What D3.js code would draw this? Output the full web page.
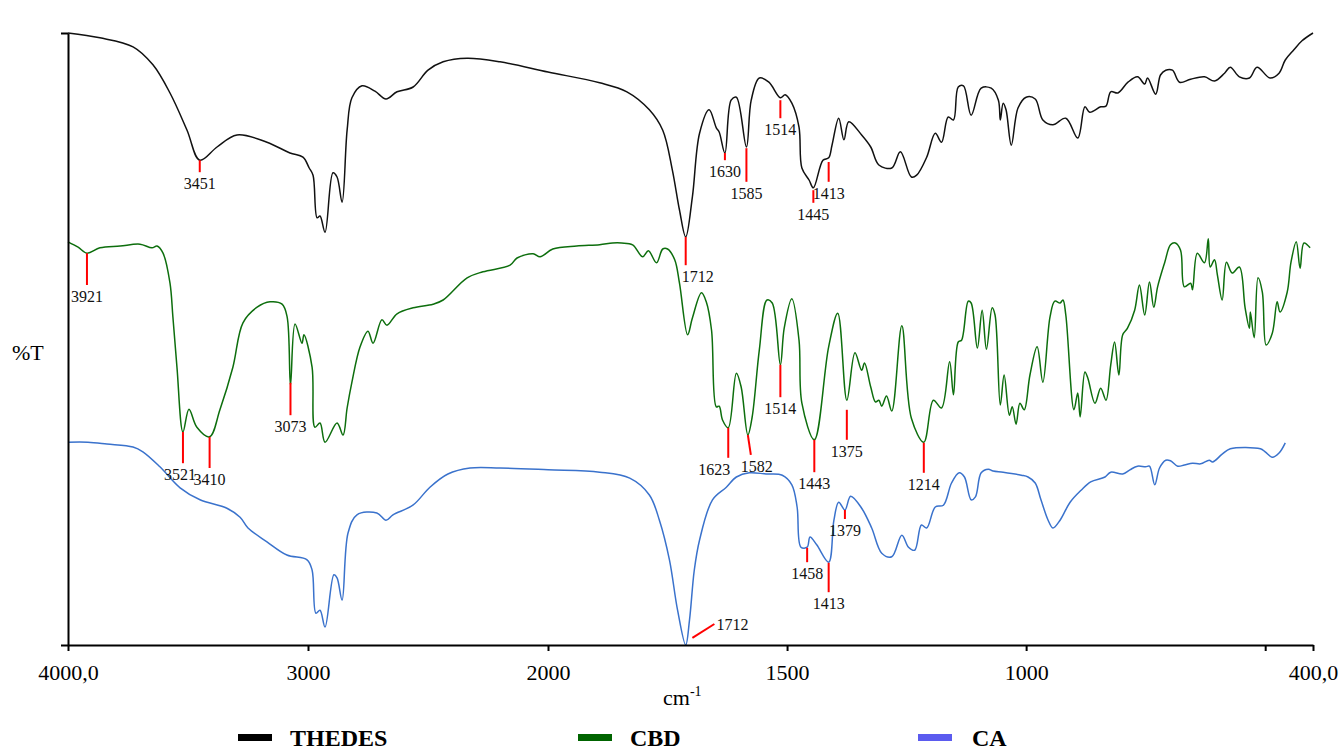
<!DOCTYPE html>
<html>
<head>
<meta charset="utf-8">
<script src="https://cdn.jsdelivr.net/npm/d3@7"></script>
<style>
  body { margin: 0; background: #fff; }
  text { font-family: "Liberation Serif", "Times New Roman", serif; }
</style>
</head>
<body>
<div id="svg"></div>
<script>
// FTIR spectra, [wavenumber cm-1, %T] (curves are stacked, arbitrary offset)
var thedes = [[4000,102],[3867,101.2],[3729,99.7],[3646,96.7],[3575,92],[3504,85.8],[3451,80.8],[3379,83],[3296,85],[3171,83.8],[3075,82],[3021,81.3],[2995,79.5],[2979,78.3],[2962,71.2],[2950,71.5],[2929,68.8],[2896,78.7],[2879,78],[2858,73.8],[2837,85.8],[2817,91.2],[2775,93.2],[2721,92.3],[2675,91],[2629,92.2],[2562,93],[2500,95.8],[2437,97.2],[2337,97.8],[2200,97.2],[2000,95.5],[1892,93.7],[1835,92.2],[1788,89.2],[1760,85.8],[1740,79.2],[1725,72.5],[1712,68],[1698,74.7],[1683,85.3],[1663,89.2],[1648,86.2],[1642,85.5],[1630,82],[1617,90.8],[1606,91.3],[1585,83],[1575,90.8],[1558,94.5],[1538,93.8],[1514,91.2],[1504,91.7],[1490,90.3],[1475,86.3],[1469,79.5],[1454,77.5],[1445,76.2],[1425,80.8],[1413,81.2],[1406,83.3],[1392,87.8],[1381,84.2],[1371,87.2],[1344,85],[1325,83],[1308,80],[1281,79.5],[1263,82.2],[1240,78],[1229,78.3],[1208,81.3],[1190,85.3],[1177,83.8],[1163,88],[1152,87.5],[1142,93],[1131,93.2],[1115,88.3],[1094,92.8],[1073,92.8],[1058,90.8],[1054,87.5],[1048,90.3],[1042,89.2],[1031,83.3],[1017,89.5],[1000,91.3],[981,91],[965,87.5],[944,86.7],[917,87.8],[892,84.5],[877,89.7],[867,88.8],[844,89.7],[833,89.8],[823,92.2],[808,92],[787,93.8],[767,94.7],[752,93.5],[746,94.5],[729,91.8],[719,95],[708,95.8],[694,95.8],[679,93.8],[656,94.3],[627,94.7],[606,94],[585,95.3],[573,96.3],[554,94.7],[533,94.5],[517,96.3],[490,94.5],[471,95.3],[458,97.5],[440,99.2],[423,100.7],[400,102]];

var cbd = [[4000,67.2],[3958,66.3],[3921,65.3],[3867,66.2],[3783,66.5],[3700,66.8],[3650,66.2],[3629,66.5],[3604,65.3],[3575,60.3],[3563,54.7],[3546,46.3],[3521,35.5],[3496,39.3],[3463,36.3],[3410,34.7],[3367,39.2],[3313,46.3],[3271,53.7],[3212,56.3],[3158,57.2],[3108,56.8],[3087,54.7],[3073,43.3],[3054,53.5],[3025,50.3],[3017,51.7],[2983,46.3],[2971,36.3],[2950,37],[2929,33.8],[2879,37],[2854,35],[2837,39.5],[2817,43.8],[2783,49.7],[2750,52.3],[2729,50.3],[2692,54.2],[2671,53.3],[2629,55.2],[2562,56.2],[2479,56.8],[2437,57.5],[2337,61.2],[2271,62.2],[2158,63.3],[2129,64.5],[2062,65.2],[2033,64.7],[1990,66],[1940,66.5],[1892,66.7],[1865,67],[1846,67],[1823,66.7],[1802,64.7],[1790,65.7],[1773,63.7],[1760,66],[1750,66],[1735,64.2],[1725,60.3],[1708,51.7],[1698,54.5],[1679,58.7],[1669,57.2],[1658,52.5],[1648,39.7],[1642,39.8],[1635,37.5],[1623,36.2],[1606,45.3],[1596,43],[1582,35],[1573,38],[1558,49.2],[1542,57.5],[1531,57],[1514,46.7],[1506,52.8],[1490,57.7],[1475,50.8],[1469,40.3],[1443,34.2],[1413,49.7],[1394,55.3],[1375,40.8],[1358,48.7],[1344,45.8],[1338,47],[1325,43],[1315,40.5],[1308,40.8],[1302,39.8],[1292,41.5],[1281,39],[1260,53.2],[1240,37.8],[1214,33.8],[1194,40.8],[1177,39.5],[1160,47.2],[1152,41.7],[1142,50.5],[1135,50.8],[1121,57.3],[1115,57],[1102,49.5],[1092,55.8],[1083,49.3],[1071,56.2],[1065,55],[1054,40],[1046,45],[1035,38.3],[1029,39.7],[1021,36.8],[1013,40.3],[1004,39.2],[992,45],[977,49.7],[965,43.8],[950,54.7],[940,57.3],[929,57],[923,57.5],[917,55],[900,39.2],[892,42],[887,38],[877,45.5],[871,44.5],[856,40.3],[844,42.8],[833,40.8],[823,46.7],[815,50.5],[806,45],[798,51.7],[788,52.8],[773,55.8],[763,60],[752,55],[742,60.5],[733,56.3],[725,59.7],[710,63.8],[698,66.7],[688,67],[677,65.8],[669,59.7],[656,60.3],[652,59.2],[642,65.3],[627,63.7],[619,67.7],[615,63],[606,64.2],[600,61.7],[590,57.5],[581,63.8],[569,62],[554,63],[542,56.2],[533,52.8],[531,55.5],[523,51.2],[515,61.2],[506,58.8],[498,50],[485,52],[475,57.2],[469,55.5],[454,58.8],[446,63.8],[435,67.2],[427,62.8],[419,67],[406,66.2]];

var ca = [[4000,33.8],[3917,33.8],[3838,33.5],[3729,33],[3688,32.2],[3617,29.7],[3533,26.2],[3450,24.2],[3338,22.8],[3283,21.3],[3250,19.5],[3171,17.2],[3088,15],[3004,14.2],[2983,12.5],[2967,5.3],[2950,5.8],[2929,3],[2892,11.7],[2879,11.2],[2858,7.5],[2833,18.7],[2796,21.7],[2713,22],[2675,20.8],[2646,21.7],[2563,23.3],[2492,26.3],[2417,28.5],[2325,29.5],[2200,29.5],[2000,29.2],[1892,28.8],[1829,27.8],[1788,25],[1767,20.8],[1746,14.2],[1729,5.8],[1712,0],[1704,4.2],[1694,12.5],[1683,17.5],[1656,24.2],[1627,26.3],[1606,28],[1579,28.7],[1544,28.5],[1510,28.3],[1490,26.7],[1479,23],[1471,16.3],[1458,16.3],[1452,18],[1438,16.7],[1413,13.8],[1402,20.8],[1392,23.8],[1379,22.5],[1367,24.8],[1344,22.8],[1323,19.5],[1302,15.3],[1281,14.7],[1260,18.3],[1246,16.3],[1233,15.8],[1219,20],[1208,19.5],[1190,23],[1173,23.3],[1156,27],[1140,28.7],[1129,28],[1115,24.2],[1106,24.7],[1094,28.7],[1079,29.3],[1069,29],[1048,28.8],[1010,28.3],[996,28],[981,27],[969,24.2],[954,20.8],[944,19.5],[929,20.8],[908,23.8],[885,25.8],[865,27.2],[835,28],[823,28.8],[798,28.5],[783,29.2],[767,29.8],[750,29.7],[742,29.8],[731,26.7],[721,29.5],[708,30.8],[698,30.7],[683,29.8],[669,30],[652,30.3],[635,30.2],[617,30.8],[610,30.5],[590,31.8],[573,32.7],[510,32.7],[500,32.2],[485,31.3],[471,32],[458,33.7]];

// peak markers: [wavenumber, %T at top, %T at bottom, label]
var thedesPeaks = [[3451,80.8,78.8,"3451"],[1712,68,63.3,"1712"],[1630,82,80.8,"1630"],[1585,82.8,77.2,"1585"],[1514,90.8,87.8,"1514"],[1445,75.8,73.7,"1445"],[1413,80.5,77.2,"1413"]];
var cbdPeaks = [[3921,65.3,60,"3921"],[3521,35.5,30.3,"3521"],[3410,34.7,29.5,"3410"],[3073,43.7,38.3,"3073"],[1623,36.2,31.2,"1623"],[1582,35,31.7,"1582"],[1514,46.7,41.3,"1514"],[1443,34.2,28.8,"1443"],[1375,39.2,34.2,"1375"],[1214,33.7,28.7,"1214"]];
var caPeaks = [[1458,16.2,13.8,"1458"],[1413,13.7,8.8,"1413"],[1379,22.5,21,"1379"]];

var xTicks = [4000,3000,2000,1500,1000,500,400];
var seriesNames = ["THEDES","CBD","CA"];

var svgWidth = 1341, svgHeight = 750;
var margin = {top:33, right:28, bottom:105, left:68};
var chartWidth = svgWidth - margin.left - margin.right;
var chartHeight = svgHeight - margin.top - margin.bottom;
var serif = "'Liberation Serif', 'Times New Roman', serif";

var $svg = d3.select("#svg").append("svg")
    .attr("width", svgWidth)
    .attr("height", svgHeight);
var chartGroup = $svg.append("g")
    .attr("transform", `translate(${margin.left},${margin.top})`);

// x axis is expanded 2x below 2000 cm-1
var xScale = d3.scaleLinear().domain([4000,2000,400]).range([0,480,chartWidth]);
var yScale = d3.scaleLinear().domain([0,102]).range([chartHeight,0]);

var lineColors = {THEDES:"#111111", CBD:"#0d6e0d", CA:"#3a72cc"};
var legendColors = {THEDES:"#000000", CBD:"#006400", CA:"#5b5bef"};

var line = d3.line()
    .x(d => xScale(d[0]))
    .y(d => yScale(d[1]))
    .curve(d3.curveCatmullRom.alpha(0.5));

[[thedes,"THEDES"],[cbd,"CBD"],[ca,"CA"]].forEach(s => {
    chartGroup.append("path")
        .datum(s[0])
        .attr("fill","none")
        .attr("stroke", lineColors[s[1]])
        .attr("stroke-width", 1.5)
        .attr("d", line);
});

// peak marks
var labelShift = {"THEDES1712":12, "CBD3521":-3, "CBD1623":-14, "CBD1582":9};
function drawPeaks(peaks, name){
    peaks.forEach(p => {
        var px = xScale(p[0]);
        var slant = (name==="CBD" && p[0]===1582) ? 3 : 0;
        chartGroup.append("line")
            .attr("x1", px).attr("x2", px + slant)
            .attr("y1", yScale(p[1])).attr("y2", yScale(p[2]))
            .attr("stroke","#ff0000").attr("stroke-width",2);
        chartGroup.append("text")
            .attr("x", px + (labelShift[name+p[0]] || 0))
            .attr("y", yScale(p[2]) + 17)
            .attr("text-anchor","middle")
            .attr("font-size","16px")
            .attr("fill","#111")
            .text(p[3]);
    });
}
drawPeaks(thedesPeaks,"THEDES");
drawPeaks(cbdPeaks,"CBD");
drawPeaks(caPeaks,"CA");

// CA 1712 is marked with a leader line to the right
chartGroup.append("line")
    .attr("x1", xScale(1698)).attr("y1", yScale(1.2))
    .attr("x2", xScale(1652)).attr("y2", yScale(3.5))
    .attr("stroke","#ff0000").attr("stroke-width",2);
chartGroup.append("text")
    .attr("x", xScale(1652) + 2)
    .attr("y", yScale(3.5) + 6)
    .attr("font-size","16px")
    .attr("fill","#111")
    .text("1712");

// axes
var bottomAxis = d3.axisBottom(xScale)
    .tickValues(xTicks)
    .tickSize(6)
    .tickSizeOuter(0)
    .tickFormat(d => d===4000 ? "4000,0" : d===400 ? "400,0" : d===500 ? "" : d);
var leftAxis = d3.axisLeft(yScale)
    .tickValues([0,102])
    .tickSize(7)
    .tickSizeOuter(0)
    .tickFormat("");

var xg = chartGroup.append("g")
    .attr("transform", `translate(0,${chartHeight})`)
    .call(bottomAxis);
xg.attr("font-family", serif);
xg.selectAll("text")
    .attr("y", 35).attr("dy", 0)
    .style("font-family", serif)
    .style("font-size","22px")
    .attr("fill","#000");
var yg = chartGroup.append("g").call(leftAxis);
chartGroup.selectAll(".domain, .tick line")
    .attr("stroke","#000").attr("stroke-width",2);

// axis titles
chartGroup.append("text")
    .attr("x", -56).attr("y", 327)
    .attr("font-size","22px")
    .text("%T");
var xt = chartGroup.append("text")
    .attr("x", 595).attr("y", 672)
    .attr("font-size","22px");
xt.append("tspan").text("cm");
xt.append("tspan").attr("dy",-9).attr("font-size","14px").text("-1");

// legend
var legend = $svg.append("g").attr("transform","translate(238,0)");
seriesNames.forEach((n,i) => {
    var g = legend.append("g").attr("transform",`translate(${i*340},0)`);
    g.append("rect")
        .attr("x",0).attr("y",734).attr("width",34).attr("height",7)
        .attr("fill", legendColors[n]);
    g.append("text")
        .attr("x", n==="CA" ? 54 : 52).attr("y", 746)
        .attr("font-size","24px")
        .attr("font-weight","bold")
        .text(n);
});
</script>
</body>
</html>
